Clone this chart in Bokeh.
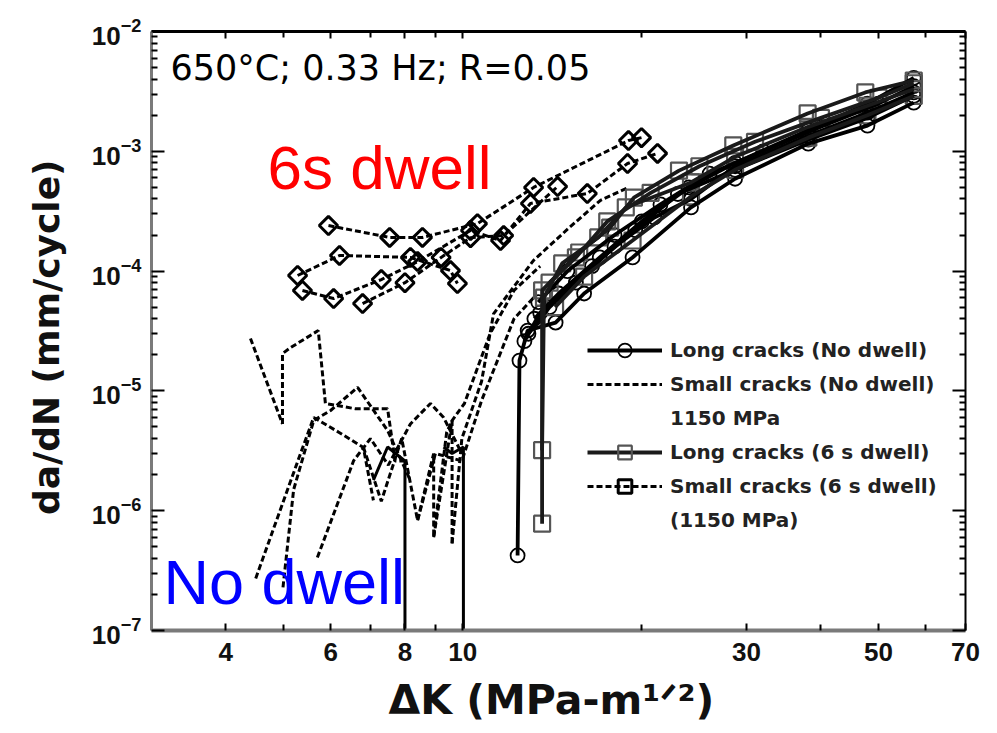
from math import pi
from bokeh.plotting import figure
from bokeh.models import (LogAxis, FixedTicker, BasicTickFormatter, LogTickFormatter,
                          Label, Legend, LegendItem)
from bokeh.embed import file_html
from bokeh.resources import INLINE

# ---------------- data ----------------
# Long cracks, no dwell (circles, solid)
long_nd_x = [
    [12.37, 12.46, 12.86, 14.33, 16.0, 19.3, 24.2, 28.7, 38.1, 47.9, 57.3],
    [12.7, 13.5, 15.5, 18.0, 21.0, 24.2, 28.7, 38.1, 47.9, 57.3],
    [13.2, 14.5, 17.0, 20.0, 24.0, 28.7, 38.1, 47.9, 57.3],
    [12.9, 14.0, 16.5, 19.5, 23.0, 28.7, 38.1, 47.9, 57.3],
    [13.4, 15.0, 18.0, 21.5, 26.0, 32.0, 40.0, 50.0, 57.3],
]
long_nd_y = [
    [4.23e-7, 1.79e-5, 3.19e-5, 3.72e-5, 6.5e-5, 1.3e-4, 3.4e-4, 5.9e-4, 1.16e-3, 1.64e-3, 2.55e-3],
    [2.6e-5, 4.5e-5, 8.0e-5, 1.6e-4, 2.8e-4, 4.0e-4, 7.5e-4, 1.35e-3, 2.1e-3, 3.1e-3],
    [4.0e-5, 6.5e-5, 1.3e-4, 2.6e-4, 5.0e-4, 8.0e-4, 1.5e-3, 2.5e-3, 4.1e-3],
    [3.0e-5, 5.0e-5, 1.1e-4, 2.2e-4, 4.4e-4, 7.0e-4, 1.25e-3, 1.9e-3, 2.9e-3],
    [5.5e-5, 1.0e-4, 2.0e-4, 3.6e-4, 6.5e-4, 1.0e-3, 1.6e-3, 2.5e-3, 3.5e-3],
]

# Long cracks, 6 s dwell (squares, solid)
long_dw_x = [
    [13.6, 13.6, 15.7, 17.7, 19.4, 23.1, 28.5, 38.0, 47.5, 57.3],
    [13.6, 13.7, 14.7, 16.9, 18.8, 24.2, 28.7, 38.1, 47.9, 57.3],
    [14.3, 16.0, 19.3, 24.2, 28.7, 38.1, 47.9, 57.3],
    [14.0, 15.5, 17.5, 20.7, 25.0, 31.0, 40.0, 50.0, 57.3],
]
long_dw_y = [
    [7.8e-7, 6.9e-5, 1.43e-4, 2.31e-4, 4.1e-4, 6.9e-4, 1.12e-3, 2.07e-3, 3.1e-3, 3.9e-3],
    [3.2e-6, 6.0e-5, 1.16e-4, 1.91e-4, 3.4e-4, 5.5e-4, 9.0e-4, 1.6e-3, 2.4e-3, 3.3e-3],
    [5.0e-5, 9.0e-5, 1.8e-4, 4.2e-4, 7.0e-4, 1.3e-3, 2.0e-3, 2.9e-3],
    [8.0e-5, 1.3e-4, 2.6e-4, 4.5e-4, 7.5e-4, 1.2e-3, 1.9e-3, 2.8e-3, 3.7e-3],
]

# Small cracks, no dwell (dashed, no markers)
small_nd_x = [
    [4.40, 4.98],
    [4.98, 4.98, 5.14, 5.72, 5.88, 6.6, 7.48, 7.7, 8.0],
    [4.49, 5.34, 5.62, 6.2, 6.81, 7.08],
    [4.99, 5.2, 5.62, 6.0, 6.66, 7.48, 8.17],
    [5.70, 6.56, 7.0, 7.5, 8.17, 8.83, 9.29, 9.97],
    [6.81, 7.3, 7.9, 8.4, 8.94, 8.94, 9.4, 9.6, 9.6],
    [9.6, 9.97, 10.76, 11.27, 13.16, 15.1, 17.05, 19.0],
    [8.94, 9.6, 10.07, 11.12, 12.2, 13.5],
    [8.4, 9.0, 9.97, 10.76, 12.2, 13.16],
]
small_nd_y = [
    [2.74e-5, 5.3e-6],
    [5.3e-6, 2.05e-5, 2.3e-5, 3.19e-5, 7.85e-6, 7.1e-6, 7.1e-6, 2.6e-6, 2.6e-6],
    [2.72e-7, 3.0e-6, 6.0e-6, 4.5e-6, 3.37e-6, 1.22e-6],
    [2.29e-7, 1.5e-6, 5.66e-6, 6.86e-6, 1.07e-5, 4.67e-6, 1.79e-6],
    [4.07e-7, 2.62e-6, 4.0e-6, 2.4e-6, 5.3e-6, 7.85e-6, 6.0e-6, 3.0e-6],
    [3.4e-6, 1.2e-6, 4.0e-6, 8.3e-7, 3.0e-6, 6.0e-7, 4.5e-6, 5.66e-6, 5.3e-7],
    [5.3e-7, 4.0e-6, 1.2e-5, 4.4e-5, 1.23e-4, 2.3e-4, 3.9e-4, 5.0e-4],
    [6.0e-7, 5.66e-6, 7.85e-6, 3.0e-5, 6.9e-5, 1.1e-4],
    [8.3e-7, 3.0e-6, 2.6e-6, 8.3e-6, 4.0e-5, 6.0e-5],
]
# small-crack traces that drop to (near) zero growth rate (solid)
small_drop_x = [[7.08, 7.48, 8.0, 8.0], [9.29, 9.6, 10.03, 10.03]]
small_drop_y = [[1.8e-6, 3.4e-6, 2.6e-6, 1e-8], [3.4e-6, 3.0e-6, 3.4e-6, 1e-8]]

# Small cracks, 6 s dwell (diamonds, dashed)
small_dw_x = [
    [5.95, 7.54, 8.56, 10.59, 13.16, 19.0, 19.98],
    [5.28, 6.21, 8.17, 9.54, 9.80],
    [5.38, 6.07, 7.3, 8.4, 10.31, 11.58, 13.0, 16.2, 18.93, 21.26],
    [6.79, 8.0, 9.2, 10.31, 11.72, 14.44],
]
small_dw_y = [
    [2.40e-4, 1.91e-4, 1.91e-4, 2.49e-4, 4.99e-4, 1.23e-3, 1.30e-3],
    [9.19e-5, 1.35e-4, 1.30e-4, 1.01e-4, 7.88e-5],
    [6.89e-5, 5.90e-5, 8.5e-5, 1.2e-4, 2.18e-4, 1.80e-4, 3.67e-4, 4.44e-4, 7.91e-4, 9.6e-4],
    [5.36e-5, 8.0e-5, 1.3e-4, 1.9e-4, 1.98e-4, 5.08e-4],
]

x_major = [4, 6, 8, 10, 30, 50, 70]
x_minor = [5, 7, 9, 20, 40, 60]
y_major = [1e-7, 1e-6, 1e-5, 1e-4, 1e-3, 1e-2]
y_minor = [m * 10.0 ** e for e in range(-7, -2) for m in range(2, 10)]

# ---------------- figure ----------------
p = figure(width=996, height=732, x_axis_type="log", y_axis_type="log",
           x_range=(3, 70), y_range=(1e-7, 1e-2),
           output_backend="svg", toolbar_location=None,
           min_border_left=151, min_border_right=31,
           min_border_top=31, min_border_bottom=102)
p.grid.visible = False
p.outline_line_color = None
p.background_fill_color = "white"

TICKF = "Liberation Sans"

def style_axis(ax, major_in, minor_in, color, lw, labels=True):
    ax.major_tick_in = major_in
    ax.major_tick_out = 0
    ax.minor_tick_in = minor_in
    ax.minor_tick_out = 0
    ax.axis_line_color = color
    ax.axis_line_width = lw
    ax.major_tick_line_color = "black"
    ax.minor_tick_line_color = "black"
    ax.major_tick_line_width = 2
    ax.minor_tick_line_width = 2
    if labels:
        ax.major_label_text_font = TICKF
        ax.major_label_text_font_style = "bold"
        ax.major_label_text_font_size = "26px"
        ax.major_label_text_color = "#111111"
        ax.axis_label_text_font = "DejaVu Sans"
        ax.axis_label_text_font_style = "bold"
        ax.axis_label_text_color = "#111111"
    else:
        ax.major_label_text_font_size = "1px"
        ax.major_label_text_color = None

xt = FixedTicker(ticks=x_major, minor_ticks=x_minor)
yt = FixedTicker(ticks=y_major, minor_ticks=y_minor)

xb = p.xaxis[0]
xb.ticker = xt
xb.formatter = BasicTickFormatter()
style_axis(xb, 7, 6, "#7a7a7a", 4)
xb.major_label_standoff = 12
xb.axis_label = "ΔK  (MPa-m¹ᐟ²)"
xb.axis_label_text_font_size = "41px"
xb.axis_label_standoff = 12

yl = p.yaxis[0]
yl.ticker = yt
yl.formatter = LogTickFormatter()
style_axis(yl, 13, 6, "#7a7a7a", 3)
yl.major_label_standoff = 10
yl.axis_label = "da/dN  (mm/cycle)"
yl.axis_label_text_font_size = "36px"
yl.axis_label_standoff = 22

xa = LogAxis(ticker=xt)
style_axis(xa, 7, 6, "black", 3, labels=False)
p.add_layout(xa, "above")
yr = LogAxis(ticker=yt)
style_axis(yr, 13, 6, "black", 2, labels=False)
p.add_layout(yr, "right")

# ---------------- data glyphs ----------------
DASH = "6 3"
snd_lines = []
for xs, ys in zip(small_nd_x, small_nd_y):
    snd_lines.append(p.line(xs, ys, line_color="black", line_width=3, line_dash=DASH))
for xs, ys in zip(small_drop_x, small_drop_y):
    p.line(xs, ys, line_color="black", line_width=3)

sdw_marks, lnd_marks, ldw_marks = [], [], []
for xs, ys in zip(small_dw_x, small_dw_y):
    sdw_marks.append(p.scatter(xs, ys, marker="square", angle=pi / 4, size=13,
                               fill_color=None, line_color="black", line_width=3))
for xs, ys in zip(long_nd_x, long_nd_y):
    lnd_marks.append(p.scatter(xs, ys, marker="circle", size=14,
                               fill_color=None, line_color="black", line_width=1.8))
for xs, ys in zip(long_dw_x, long_dw_y):
    ldw_marks.append(p.scatter(xs, ys, marker="square", size=16,
                               fill_color=None, line_color="#555555", line_width=2.2))

sdw_lines, lnd_lines, ldw_lines = [], [], []
for xs, ys in zip(small_dw_x, small_dw_y):
    sdw_lines.append(p.line(xs, ys, line_color="black", line_width=3, line_dash=DASH))
for xs, ys in zip(long_nd_x, long_nd_y):
    lnd_lines.append(p.line(xs, ys, line_color="black", line_width=3.8))
for xs, ys in zip(long_dw_x, long_dw_y):
    ldw_lines.append(p.line(xs, ys, line_color="#1a1a1a", line_width=3.8))

# legend-only proxy for the two-line labels
blank = p.line([], [], line_alpha=0)

legend = Legend(items=[
    LegendItem(label="Long cracks (No dwell)", renderers=[lnd_lines[0], lnd_marks[0]]),
    LegendItem(label="Small cracks (No dwell)", renderers=[snd_lines[0]]),
    LegendItem(label="1150 MPa", renderers=[blank]),
    LegendItem(label="Long cracks (6 s dwell)", renderers=[ldw_lines[0], ldw_marks[0]]),
    LegendItem(label="Small cracks (6 s dwell)", renderers=[sdw_lines[0], sdw_marks[0]]),
    LegendItem(label="(1150 MPa)", renderers=[blank]),
], location=(432, 89))
legend.padding = 4
legend.spacing = 0
legend.glyph_height = 34
legend.label_height = 34
legend.glyph_width = 75
legend.label_standoff = 8
legend.label_text_font = "DejaVu Sans"
legend.label_text_font_style = "bold"
legend.label_text_font_size = "20px"
legend.label_text_color = "#222222"
legend.background_fill_alpha = 0
legend.border_line_alpha = 0
p.add_layout(legend)

# ---------------- texts ----------------
p.add_layout(Label(x=19, y=563, x_units="screen", y_units="screen",
                   text="650°C; 0.33 Hz; R=0.05", text_font="DejaVu Sans",
                   text_font_size="35px", text_color="black",
                   text_baseline="alphabetic"))
p.add_layout(Label(x=116, y=463, x_units="screen", y_units="screen",
                   text="6s dwell", text_font="Liberation Sans",
                   text_font_size="62px", text_color="#FF0000",
                   text_baseline="alphabetic"))
p.add_layout(Label(x=12, y=49, x_units="screen", y_units="screen",
                   text="No dwell", text_font="Liberation Sans",
                   text_font_size="63px", text_color="#0000FF",
                   text_baseline="alphabetic"))

open("out.html", "w").write(file_html(p, INLINE))
